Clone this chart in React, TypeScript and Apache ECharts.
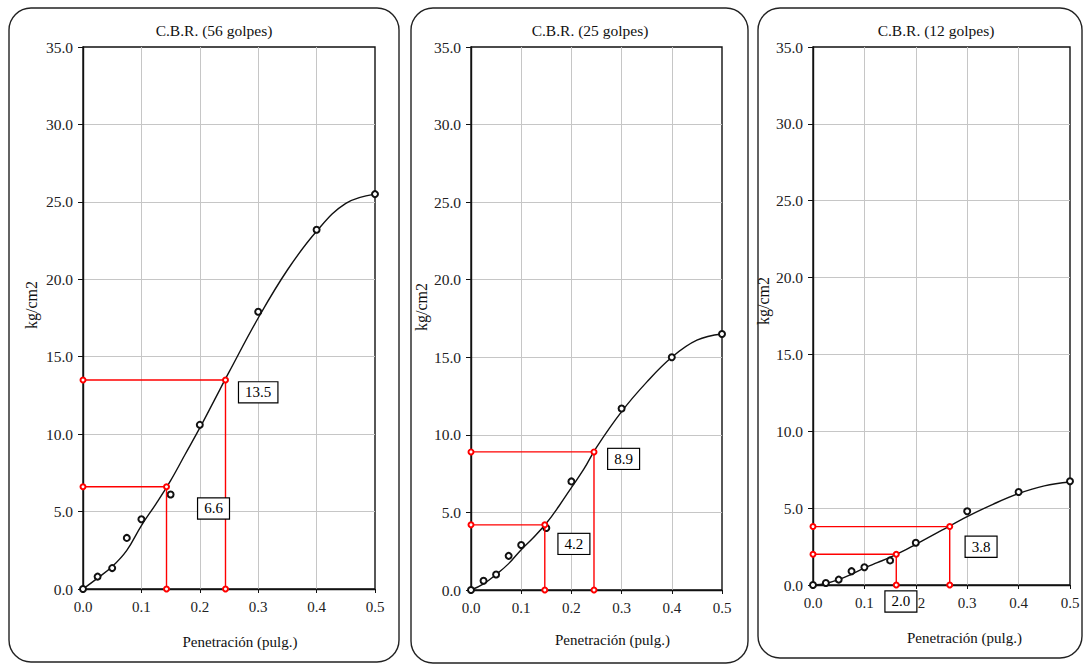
import React, { useEffect, useRef } from "react";
import * as echarts from "echarts";

// Measured points (penetration in inches, load in kg/cm2)
const penetration = [0, 0.025, 0.05, 0.075, 0.1, 0.15, 0.2, 0.3, 0.4, 0.5];
const load56 = [0, 0.8, 1.35, 3.3, 4.5, 6.1, 10.6, 17.9, 23.2, 25.5];
const load25 = [0, 0.6, 1.0, 2.2, 2.9, 4.0, 7.0, 11.7, 15.0, 16.5];
const load12 = [0, 0.13, 0.35, 0.9, 1.15, 1.6, 2.75, 4.8, 6.05, 6.75];

// Fitted curve
const curveX = [0, 0.025, 0.05, 0.075, 0.1, 0.125, 0.15, 0.175, 0.2, 0.225, 0.25, 0.3, 0.35, 0.4, 0.45, 0.5];
const curve56 = [0, 0.7, 1.45, 2.5, 4.1, 5.5, 7.0, 8.7, 10.4, 12.2, 14.0, 17.5, 20.6, 23.1, 24.9, 25.5];
const curve25 = [0, 0.4, 1.0, 1.7, 2.6, 3.4, 4.3, 5.4, 6.6, 7.8, 9.2, 11.5, 13.4, 15.0, 16.1, 16.5];
const curve12 = [0, 0.1, 0.35, 0.7, 1.1, 1.45, 1.8, 2.2, 2.65, 3.1, 3.55, 4.45, 5.25, 5.95, 6.45, 6.7];

// Corrected readings (red construction lines)
const cbrX56 = [0.143, 0.244];
const cbrY56 = [6.6, 13.5];
const cbrX25 = [0.147, 0.245];
const cbrY25 = [4.2, 8.9];
const cbrX12 = [0.162, 0.266];
const cbrY12 = [2.0, 3.8];

const titles = ["C.B.R. (56 golpes)", "C.B.R. (25 golpes)", "C.B.R. (12 golpes)"];
const xTickStep = 0.1;
const yTickStep = 5;

// Layout (not data)
const grids = [
  { left: 83, top: 47, width: 292, height: 542 },
  { left: 471, top: 47, width: 251, height: 543 },
  { left: 813, top: 47, width: 257, height: 538 },
];
const titlePos = [209, 585, 931];
const yNameGap = [44, 36, 29];
const yNameShift = [26, 23, 30];
const xNameGap = [45, 42, 45];
const xNameShift = [22, 32, 46];
const panels = [
  { x: 9, y: 8, w: 390, h: 654 },
  { x: 411, y: 8, w: 337, h: 655 },
  { x: 758, y: 8, w: 324, h: 650 },
];
const boxAnchors = [
  [[0.2235, 5.2], [0.3, 12.7]],
  [[0.205, 2.97], [0.304, 8.45]],
  [[0.171, -1.07], [0.327, 2.49]],
];

const FONT = "Liberation Serif";

export default function App() {
  const ref = useRef<HTMLDivElement>(null);
  useEffect(() => {
    if (!ref.current) return;
    const chart = echarts.init(ref.current, undefined, { renderer: "svg" });
    const loads = [load56, load25, load12];
    const curves = [curve56, curve25, curve12];
    const cbrXs = [cbrX56, cbrX25, cbrX12];
    const cbrYs = [cbrY56, cbrY25, cbrY12];

    const series: any[] = [];
    for (let i = 0; i < 3; i++) {
      series.push({
        type: "line",
        xAxisIndex: i,
        yAxisIndex: i,
        smooth: 0.4,
        showSymbol: false,
        symbol: "none",
        lineStyle: { color: "#111", width: 1.4 },
        data: curveX.map((x, k) => [x, curves[i][k]]),
        z: 3,
      });
      series.push({
        type: "scatter",
        xAxisIndex: i,
        yAxisIndex: i,
        symbol: "emptyCircle",
        symbolSize: 6,
        itemStyle: { color: "#111", borderColor: "#111", borderWidth: 1, opacity: 1 },
        data: penetration.map((x, k) => [x, loads[i][k]]),
        z: 4,
      });
      for (let j = 0; j < 2; j++) {
        const cx = cbrXs[i][j];
        const cy = cbrYs[i][j];
        series.push({
          type: "line",
          xAxisIndex: i,
          yAxisIndex: i,
          symbol: "emptyCircle",
          symbolSize: 5,
          showSymbol: true,
          itemStyle: { color: "#ff0000", borderColor: "#ff0000", borderWidth: 1.2 },
          lineStyle: { color: "#ff0000", width: 1.4 },
          data: [
            [0, cy],
            [cx, cy],
            [cx, 0],
          ],
          z: 5,
        });
      }
      series.push({
        type: "scatter",
        xAxisIndex: i,
        yAxisIndex: i,
        symbolSize: 0,
        clip: false,
        silent: true,
        itemStyle: { opacity: 1 },
        data: boxAnchors[i].map((p, j) => ({ value: p, name: cbrYs[i][j].toFixed(1) })),
        label: {
          show: true,
          position: "inside",
          formatter: (p: any) => p.name,
          fontFamily: FONT,
          fontSize: 15,
          color: "#000",
          backgroundColor: "#fff",
          borderColor: "#000",
          borderWidth: 1.2,
          padding: [3, 6, 2, 6],
        },
        z: 6,
      });
    }

    const option: any = {
      animation: false,
      backgroundColor: "#fff",
      textStyle: { fontFamily: FONT },
      title: titles.map((t, i) => ({
        text: t,
        left: titlePos[i],
        top: 17,
        textAlign: "center",
        textStyle: { fontFamily: FONT, fontSize: 15.5, fontWeight: "normal", color: "#111" },
      })),
      grid: grids.map((g) => ({
        ...g,
        show: true,
        borderColor: "#111",
        borderWidth: 1.4,
        backgroundColor: "transparent",
      })),
      xAxis: grids.map((_, i) => ({
        type: "value",
        gridIndex: i,
        min: 0,
        max: 0.5,
        interval: xTickStep,
        name: "Penetración (pulg.)",
        nameLocation: "middle",
        nameGap: xNameGap[i],
        nameTextStyle: {
          fontFamily: FONT,
          fontSize: 15,
          color: "#111",
          padding: [0, 0, 0, xNameShift[i]],
        },
        axisLine: { show: true, onZero: false, lineStyle: { color: "#111", width: 1.4 } },
        axisTick: { show: true, inside: false, length: 4, lineStyle: { color: "#111" } },
        axisLabel: {
          fontFamily: FONT,
          fontSize: 15,
          color: "#222",
          margin: 10,
          formatter: (v: number) => v.toFixed(1),
        },
        splitLine: {
          show: true,
          showMinLine: false,
          showMaxLine: false,
          lineStyle: { color: "#c6c6c6", width: 1 },
        },
      })),
      yAxis: grids.map((_, i) => ({
        type: "value",
        gridIndex: i,
        min: 0,
        max: 35,
        interval: yTickStep,
        name: "kg/cm2",
        nameLocation: "middle",
        nameGap: yNameGap[i],
        nameRotate: 90,
        nameTextStyle: {
          fontFamily: FONT,
          fontSize: 16,
          color: "#111",
          padding: [0, 0, 0, yNameShift[i]],
        },
        axisLine: { show: true, lineStyle: { color: "#111", width: 1.4 } },
        axisTick: { show: true, inside: false, length: 5, lineStyle: { color: "#111" } },
        axisLabel: {
          fontFamily: FONT,
          fontSize: 15.5,
          color: "#222",
          margin: 10,
          formatter: (v: number) => v.toFixed(1),
        },
        splitLine: {
          show: true,
          showMinLine: false,
          showMaxLine: false,
          lineStyle: { color: "#c6c6c6", width: 1 },
        },
      })),
      graphic: panels.map((p) => ({
        type: "rect",
        z: -1,
        silent: true,
        shape: { x: p.x, y: p.y, width: p.w, height: p.h, r: 22 },
        style: { fill: "none", stroke: "#222", lineWidth: 1.4 },
      })),
      series,
    };
    chart.setOption(option);
    return () => chart.dispose();
  }, []);
  return (
    <div
      ref={ref}
      style={{ position: "fixed", left: 0, top: 0, width: 1084, height: 664 }}
    />
  );
}
